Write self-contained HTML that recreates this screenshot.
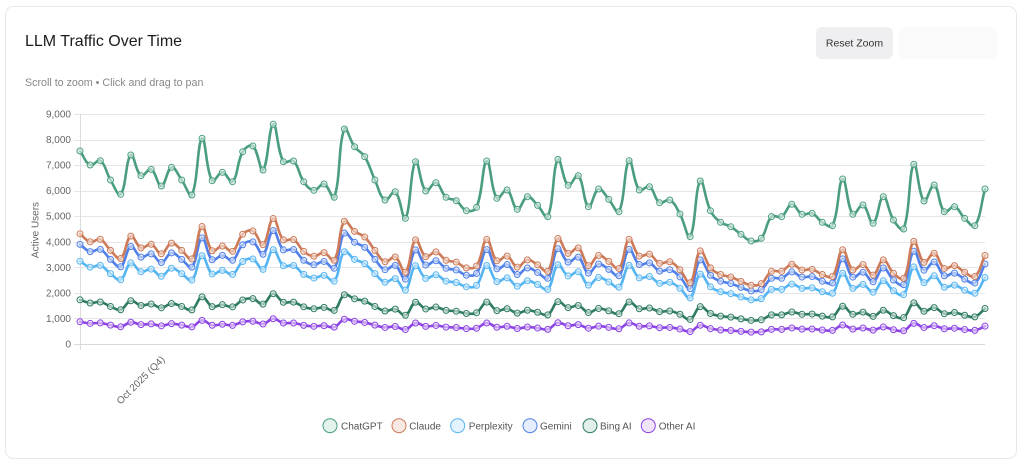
<!DOCTYPE html>
<html>
<head>
<meta charset="utf-8">
<style>
  html, body { margin:0; padding:0; background:#ffffff; }
  body { width:1024px; height:466px; overflow:hidden; font-family:"Liberation Sans", Arial, sans-serif; }
  svg { display:block; }
  text { font-family:"Liberation Sans", Arial, sans-serif; }
</style>
</head>
<body>
<svg id="chart" width="1024" height="466" viewBox="0 0 1024 466" xmlns="http://www.w3.org/2000/svg">
  <!-- card -->
  <rect x="5.5" y="6.5" width="1011" height="452" rx="8" ry="8" fill="#ffffff" stroke="#e8e8ea" stroke-width="1"/>

  <!-- title -->
  <text x="25" y="46" font-size="16" fill="#1c1c1c">LLM Traffic Over Time</text>
  <text x="25" y="86" font-size="10.7" fill="#888888">Scroll to zoom • Click and drag to pan</text>

  <!-- buttons -->
  <rect x="816" y="27" width="77" height="32" rx="6" ry="6" fill="#efeff1"/>
  <text x="854.5" y="46.5" font-size="10.5" fill="#333333" text-anchor="middle">Reset Zoom</text>
  <rect x="899" y="27" width="98" height="32" rx="6" ry="6" fill="#fafafa"/>

  <!-- grid -->
  <g id="grid" stroke="#e6e6e8" stroke-width="1"></g>
  <g id="ylabels" font-size="10" fill="#666666" text-anchor="end"></g>

  <!-- axes -->
  <line x1="80.5" y1="114" x2="80.5" y2="350" stroke="#dcdce0" stroke-width="1"/>
  <line x1="74" y1="344.5" x2="985" y2="344.5" stroke="#d8d8de" stroke-width="1"/>

  <!-- axis titles -->
  <text x="35" y="233.5" font-size="10" fill="#666666" text-anchor="middle" transform="rotate(-90 35 230)">Active Users</text>
  <text x="140.5" y="383.5" font-size="10" fill="#666666" text-anchor="middle" transform="rotate(-45 140.5 380)">Oct 2025 (Q4)</text>

  <!-- series -->
  <g id="series"></g>

  <!-- legend -->
  <g font-size="10" fill="#555555">
    <circle cx="330" cy="425.7" r="7" fill="#e4f2ec" stroke="#4a9e7e" stroke-width="1"/>
    <text x="341" y="429.3">ChatGPT</text>
    <circle cx="399" cy="425.7" r="7" fill="#f8e9e2" stroke="#cc7a58" stroke-width="1"/>
    <text x="409.3" y="429.3">Claude</text>
    <circle cx="457.7" cy="425.7" r="7" fill="#e4f3fd" stroke="#55b5f2" stroke-width="1"/>
    <text x="468.7" y="429.3">Perplexity</text>
    <circle cx="530" cy="425.7" r="7" fill="#e6edfc" stroke="#5080e8" stroke-width="1"/>
    <text x="540" y="429.3">Gemini</text>
    <circle cx="590" cy="425.7" r="7" fill="#e1eee9" stroke="#2f7c5f" stroke-width="1"/>
    <text x="600" y="429.3">Bing AI</text>
    <circle cx="648.3" cy="425.7" r="7" fill="#f0e4fb" stroke="#8c44e4" stroke-width="1"/>
    <text x="658.7" y="429.3">Other AI</text>
  </g>
</svg>

<script>
(function(){
  var NS = "http://www.w3.org/2000/svg";
  var X0 = 80, X1 = 985, Y0 = 344, H = 230, MAX = 9000;
  function yv(v){ return Y0 - v * H / MAX; }

  // grid lines & y labels
  var grid = document.getElementById("grid");
  var yl = document.getElementById("ylabels");
  var labels = ["0","1,000","2,000","3,000","4,000","5,000","6,000","7,000","8,000","9,000"];
  for (var k = 1; k <= 9; k++) {
    var y = Math.round(yv(k*1000)) + 0.5;
    var l = document.createElementNS(NS, "line");
    l.setAttribute("x1", 74); l.setAttribute("x2", 985);
    l.setAttribute("y1", y); l.setAttribute("y2", y);
    grid.appendChild(l);
  }
  for (var k = 0; k <= 9; k++) {
    var t = document.createElementNS(NS, "text");
    t.setAttribute("x", 71);
    t.setAttribute("y", (yv(k*1000) + 3.5).toFixed(1));
    t.textContent = labels[k];
    yl.appendChild(t);
  }

  var chat = [7552,7004,7173,6417,5857,7395,6586,6835,6182,6913,
              6417,5830,8048,6390,6718,6351,7525,7748,6808,8597,
              7134,7161,6351,6013,6261,5740,8413,7720,7330,6417,
              5635,5960,4918,7134,5987,6312,5740,5607,5216,5349,
              7161,5701,6026,5270,5764,5425,4982,7226,6209,6586,
              5373,6065,5661,5177,7173,6026,6155,5529,5635,5087,
              4199,6378,5216,4762,4590,4292,4030,4136,4982,4982,
              5466,5075,5114,4762,4629,6456,5075,5440,4723,5764,
              4852,4500,7031,5596,6222,5177,5373,4918,4629,6065];
  var n = chat.length;
  var dx = (X1 - X0) / (n - 1);

  var series = [
    {name:"Other AI",   ratio:0.115, color:"#8c44e4", tint:"#f0e4fb"},
    {name:"Bing AI",    ratio:0.229, color:"#2f7c5f", tint:"#e1eee9"},
    {name:"Gemini",     ratio:0.516, color:"#5080e8", tint:"#e6edfc"},
    {name:"Perplexity", ratio:0.429, color:"#55b5f2", tint:"#e4f3fd"},
    {name:"Claude",     ratio:0.571, color:"#cc7a58", tint:"#f8e9e2"},
    {name:"ChatGPT",    ratio:1.0,   color:"#4a9e7e", tint:"#e4f2ec"}
  ];

  var root = document.getElementById("series");
  var tension = 0.4;

  series.forEach(function(s){
    var pts = [];
    for (var i = 0; i < n; i++) pts.push({x: X0 + i*dx, y: yv(chat[i]*s.ratio)});
    // chart.js style spline control points
    var cps = [];
    for (var i = 0; i < n; i++) {
      var p0 = pts[Math.max(0,i-1)], p1 = pts[i], p2 = pts[Math.min(n-1,i+1)];
      var d01 = Math.hypot(p1.x-p0.x, p1.y-p0.y);
      var d12 = Math.hypot(p2.x-p1.x, p2.y-p1.y);
      var s01 = d01/(d01+d12 || 1), s12 = d12/(d01+d12 || 1);
      s01 = isNaN(s01)?0:s01; s12 = isNaN(s12)?0:s12;
      var fa = tension*s01, fb = tension*s12;
      cps.push({
        px: p1.x - fa*(p2.x-p0.x), py: p1.y - fa*(p2.y-p0.y),
        nx: p1.x + fb*(p2.x-p0.x), ny: p1.y + fb*(p2.y-p0.y)
      });
    }
    var d = "M" + pts[0].x.toFixed(2) + "," + pts[0].y.toFixed(2);
    for (var i = 1; i < n; i++) {
      d += " C" + cps[i-1].nx.toFixed(2) + "," + cps[i-1].ny.toFixed(2) + " " +
           cps[i].px.toFixed(2) + "," + cps[i].py.toFixed(2) + " " +
           pts[i].x.toFixed(2) + "," + pts[i].y.toFixed(2);
    }
    var g = document.createElementNS(NS, "g");
    var path = document.createElementNS(NS, "path");
    path.setAttribute("d", d);
    path.setAttribute("fill", "none");
    path.setAttribute("stroke", s.color);
    path.setAttribute("stroke-width", "2.6");
    path.setAttribute("stroke-linejoin", "round");
    path.setAttribute("stroke-linecap", "round");
    g.appendChild(path);
    for (var i = 0; i < n; i++) {
      var c = document.createElementNS(NS, "circle");
      c.setAttribute("cx", pts[i].x.toFixed(2));
      c.setAttribute("cy", pts[i].y.toFixed(2));
      c.setAttribute("r", "3");
      c.setAttribute("fill", s.tint);
      c.setAttribute("fill-opacity", "0.6");
      c.setAttribute("stroke", s.color);
      c.setAttribute("stroke-width", "1");
      g.appendChild(c);
    }
    root.appendChild(g);
  });
})();
</script>
</body>
</html>
